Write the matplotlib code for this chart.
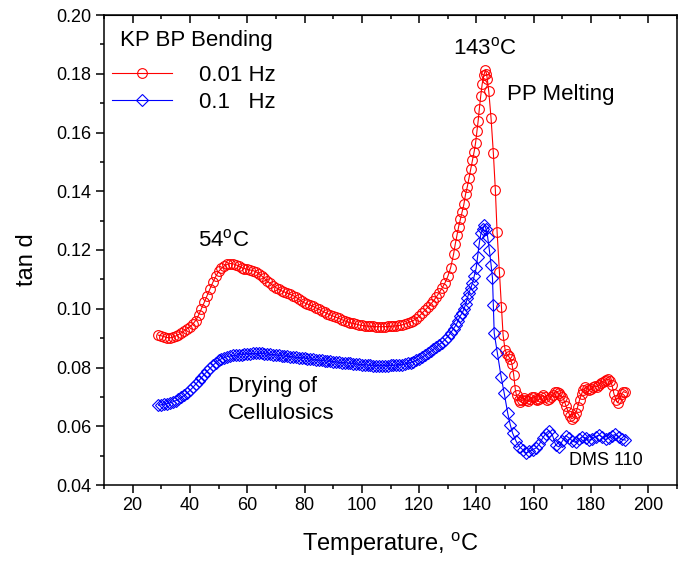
import matplotlib
matplotlib.use('Agg')
from matplotlib import pyplot as plt
from matplotlib.ticker import MultipleLocator, FormatStrFormatter

plt.rcParams['font.family'] = ['Liberation Sans', 'DejaVu Sans']
plt.rcParams['mathtext.fontset'] = 'custom'
plt.rcParams['mathtext.rm'] = 'Liberation Sans'

# 0.01 Hz run (red circles)
red_temp = [29, 30, 31, 32, 33, 34, 35, 36, 37, 38, 39, 40, 41, 42, 43, 44, 45, 46, 47, 48,
            49, 50, 51, 52, 53, 54, 55, 56, 57, 58, 59, 60, 61, 62, 63, 64, 65, 66, 67, 68,
            69, 70, 71, 72, 73, 74, 75, 76, 77, 78, 79, 80, 81, 82, 83, 84, 85, 86, 87, 88,
            89, 90, 91, 92, 93, 94, 95, 96, 97, 98, 99, 100, 101, 102, 103, 104, 105, 106, 107, 108,
            109, 110, 111, 112, 113, 114, 115, 116, 117, 118, 119, 120, 121, 122, 123, 124, 125, 126, 127, 128,
            129, 130, 131,
            132.0, 132.6, 133.2, 133.8, 134.4, 135.0, 135.6, 136.2, 136.8, 137.4, 138.0, 138.6, 139.2, 139.7,
            140.2, 140.6, 141.0, 141.5, 142.0, 142.6, 143.1, 143.5, 143.8, 144.3, 145.1, 145.9, 146.6, 147.2,
            148.0, 148.7, 149.3, 150.0, 150.6, 151.2, 151.8, 152.4, 153.0, 153.6,
            154.0, 154.7, 155.3, 156.0, 156.7, 157.3, 158.0, 158.7, 159.3, 160.0, 160.7, 161.3, 162.0, 162.7,
            163.3, 164.0, 164.7, 165.3, 166.0, 166.7, 167.3, 168.0, 168.7, 169.3, 170.0, 170.7, 171.3, 172.0,
            172.7, 173.3, 174.0, 174.7, 175.3, 176.0, 176.7, 177.3, 178.0, 178.7, 179.3, 180.0, 180.7, 181.3,
            182.0, 182.7, 183.3, 184.0, 184.7, 185.3, 186.0, 186.7, 187.3, 188.0, 188.7, 189.3, 190.0, 190.7,
            191.3, 192.0]
red_tand = [0.0910, 0.0908, 0.0905, 0.0902, 0.0901, 0.0903, 0.0907, 0.0912, 0.0918, 0.0925,
            0.0932, 0.0939, 0.0948, 0.0960, 0.0978, 0.1000, 0.1022, 0.1045, 0.1068, 0.1090,
            0.1110, 0.1127, 0.1138, 0.1146, 0.1151, 0.1154, 0.1153, 0.1150, 0.1145, 0.1140,
            0.1137, 0.1134, 0.1132, 0.1130, 0.1126, 0.1120, 0.1112, 0.1103, 0.1094, 0.1086,
            0.1079, 0.1072, 0.1066, 0.1061, 0.1057, 0.1053, 0.1049, 0.1045, 0.1039, 0.1032,
            0.1025, 0.1020, 0.1016, 0.1012, 0.1008, 0.1003, 0.0998, 0.0993, 0.0988, 0.0983,
            0.0979, 0.0975, 0.0971, 0.0967, 0.0963, 0.0959, 0.0955, 0.0952, 0.0950, 0.0948,
            0.0945, 0.0943, 0.0942, 0.0941, 0.0940, 0.0940, 0.0939, 0.0939, 0.0939, 0.0939,
            0.0940, 0.0940, 0.0941, 0.0942, 0.0943, 0.0945, 0.0948, 0.0952, 0.0956, 0.0960,
            0.0966, 0.0975, 0.0985, 0.0995, 0.1005, 0.1015, 0.1027, 0.1040, 0.1055, 0.1070,
            0.1088, 0.1110, 0.1140,
            0.1185, 0.1220, 0.1250, 0.1280, 0.1305, 0.1330, 0.1355, 0.1390, 0.1415, 0.1445,
            0.1475, 0.1505, 0.1535, 0.1565, 0.1605, 0.1640, 0.1680, 0.1725, 0.1765, 0.1795,
            0.1813, 0.1800, 0.1782, 0.1740, 0.1648, 0.1530, 0.1404, 0.1262, 0.1126, 0.1007,
            0.0910, 0.0860, 0.0845, 0.0838, 0.0830, 0.0812, 0.0775, 0.0722,
            0.0705, 0.0690, 0.0683, 0.0688, 0.0695, 0.0690, 0.0685, 0.0692, 0.0698, 0.0700,
            0.0694, 0.0688, 0.0693, 0.0700, 0.0705, 0.0698, 0.0690, 0.0693, 0.0700, 0.0708,
            0.0715, 0.0718, 0.0712, 0.0705, 0.0700, 0.0685, 0.0668, 0.0650, 0.0635, 0.0625,
            0.0630, 0.0645, 0.0665, 0.0690, 0.0710, 0.0725, 0.0732, 0.0728, 0.0722, 0.0726,
            0.0733, 0.0738, 0.0735, 0.0740, 0.0748, 0.0752, 0.0755, 0.0758, 0.0760, 0.0755,
            0.0740, 0.0710, 0.0690, 0.0680, 0.0695, 0.0710, 0.0718, 0.0715]

# 0.1 Hz run (blue diamonds)
blue_temp = [29, 30, 31, 32, 33, 34, 35, 36, 37, 38, 39, 40, 41, 42, 43, 44, 45, 46, 47, 48,
             49, 50, 51, 52, 53, 54, 55, 56, 57, 58, 59, 60, 61, 62, 63, 64, 65, 66, 67, 68,
             69, 70, 71, 72, 73, 74, 75, 76, 77, 78, 79, 80, 81, 82, 83, 84, 85, 86, 87, 88,
             89, 90, 91, 92, 93, 94, 95, 96, 97, 98, 99, 100, 101, 102, 103, 104, 105, 106, 107, 108,
             109, 110, 111, 112, 113, 114, 115, 116, 117, 118, 119, 120, 121, 122, 123, 124, 125, 126, 127, 128,
             129, 130, 131,
             132.0, 132.9, 133.6, 134.3, 135.0, 135.6, 136.2, 136.8, 137.4, 138.0, 138.6, 139.2, 139.9, 140.4,
             141.0, 141.6, 142.2, 142.8, 143.4, 143.9, 144.5, 145.1, 145.6, 145.9, 146.2, 147.3, 148.6, 149.7,
             150.9, 151.8, 152.6, 153.8, 155.0, 156.2, 157.3, 158.5, 159.6, 160.8, 162.0, 163.1, 164.2, 165.3,
             166.5, 167.7, 168.8, 170.0, 171.2, 172.3, 173.5, 174.6, 175.8, 177.0, 178.1, 179.3, 180.4, 181.6,
             182.8, 183.9, 185.1, 186.2, 187.4, 188.5, 189.7, 190.8, 192.0]
blue_tand = [0.0672, 0.0673, 0.0675, 0.0677, 0.0680, 0.0683, 0.0687, 0.0692, 0.0698, 0.0705,
             0.0713, 0.0722, 0.0732, 0.0743, 0.0754, 0.0765, 0.0776, 0.0787, 0.0797, 0.0807,
             0.0816, 0.0824, 0.0830, 0.0834, 0.0837, 0.0839, 0.0841, 0.0842, 0.0843, 0.0844,
             0.0845, 0.0846, 0.0847, 0.0848, 0.0848, 0.0848, 0.0848, 0.0847, 0.0846, 0.0845,
             0.0844, 0.0843, 0.0841, 0.0840, 0.0839, 0.0838, 0.0837, 0.0836, 0.0835, 0.0834,
             0.0833, 0.0832, 0.0830, 0.0829, 0.0828, 0.0826, 0.0825, 0.0824, 0.0823, 0.0822,
             0.0821, 0.0820, 0.0819, 0.0818, 0.0817, 0.0816, 0.0815, 0.0814, 0.0813, 0.0812,
             0.0811, 0.0810, 0.0809, 0.0808, 0.0807, 0.0806, 0.0806, 0.0806, 0.0806, 0.0806,
             0.0806, 0.0807, 0.0807, 0.0808, 0.0809, 0.0810, 0.0812, 0.0814, 0.0817, 0.0820,
             0.0824, 0.0829, 0.0835, 0.0841, 0.0848, 0.0855, 0.0862, 0.0870, 0.0878, 0.0885,
             0.0895, 0.0905, 0.0918,
             0.0932, 0.0945, 0.0960, 0.0975, 0.0985, 0.0998, 0.1015, 0.1035, 0.1055, 0.1070,
             0.1087, 0.1110, 0.1138, 0.1177, 0.1224, 0.1258, 0.1270, 0.1285, 0.1270, 0.1245,
             0.1200, 0.1150, 0.1104, 0.1013, 0.0917, 0.0849, 0.0769, 0.0712, 0.0645, 0.0605,
             0.0577, 0.0550, 0.0530, 0.0520, 0.0509, 0.0515, 0.0520, 0.0526, 0.0540, 0.0560,
             0.0575, 0.0585, 0.0570, 0.0535, 0.0530, 0.0550, 0.0568, 0.0560, 0.0550, 0.0545,
             0.0555, 0.0565, 0.0560, 0.0552, 0.0558, 0.0565, 0.0570, 0.0563, 0.0555, 0.0560,
             0.0568, 0.0572, 0.0562, 0.0555, 0.0553]

fig = plt.figure(figsize=(6.78, 5.65), dpi=100)
ax = fig.add_axes([104 / 678, 80 / 565, 573 / 678, 470 / 565])

ax.plot(red_temp, red_tand, color='red', lw=0.8, marker='o', ms=7,
        mfc='none', mec='red', mew=0.8, label='0.01 Hz')
ax.plot(blue_temp, blue_tand, color='blue', lw=0.8, marker='D', ms=6.3,
        mfc='none', mec='blue', mew=0.8, label='0.1   Hz')

ax.set_xlim(10, 210)
ax.set_ylim(0.04, 0.20)
ax.xaxis.set_major_locator(MultipleLocator(20))
ax.xaxis.set_minor_locator(MultipleLocator(10))
ax.yaxis.set_major_locator(MultipleLocator(0.02))
ax.yaxis.set_minor_locator(MultipleLocator(0.01))
ax.yaxis.set_major_formatter(FormatStrFormatter('%.2f'))
ax.tick_params(which='major', direction='out', length=6, width=1.1, labelsize=13, pad=3)
ax.tick_params(which='minor', direction='out', length=3, width=1.1)
for s in ax.spines.values():
    s.set_linewidth(1.1)

# mirrored ticks on top, pointing in
top = ax.secondary_xaxis('top')
top.xaxis.set_major_locator(MultipleLocator(20))
top.xaxis.set_minor_locator(MultipleLocator(10))
top.tick_params(which='major', direction='in', length=6, width=1.1, labeltop=False)
top.tick_params(which='minor', direction='in', length=3, width=1.1)

ax.set_xlabel(r'Temperature, $^{\mathrm{o}}$C', fontsize=17)
ax.set_ylabel('tan d', fontsize=17)
ax.xaxis.set_label_coords(0.5, -0.095)
ax.yaxis.set_label_coords(-0.115, 0.48)

ax.text(0.028, 0.945, 'KP BP Bending', transform=ax.transAxes, fontsize=16, va='center')
ax.legend(loc='upper left', bbox_to_anchor=(0.014, 0.894), frameon=False, fontsize=16,
          handlelength=2.7, handletextpad=1.2, labelspacing=0.28, borderpad=0, borderaxespad=0)

ax.text(143, 0.1885, r'143$^{\mathrm{o}}$C', fontsize=16, ha='center', va='center')
ax.text(150.8, 0.1728, 'PP Melting', fontsize=16, ha='left', va='center')
ax.text(51.8, 0.1231, r'54$^{\mathrm{o}}$C', fontsize=16, ha='center', va='center')
ax.text(53.2, 0.0737, 'Drying of', fontsize=16, ha='left', va='center')
ax.text(53.2, 0.0642, 'Cellulosics', fontsize=16, ha='left', va='center')
ax.text(172.4, 0.0485, 'DMS 110', fontsize=13, ha='left', va='center')

fig.savefig('out.png', dpi=100)
